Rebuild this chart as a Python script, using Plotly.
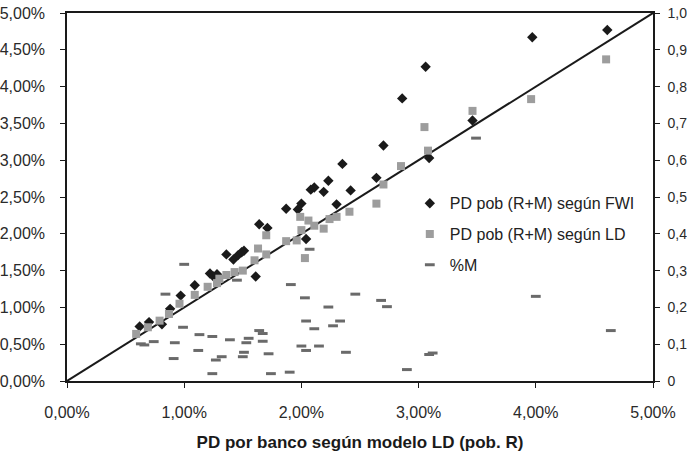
import plotly.graph_objects as go

# PD por banco según modelo LD (pob. R), in %
fwi_x = [0.62, 0.70, 0.81, 0.88, 0.97, 1.09, 1.22, 1.25, 1.28, 1.36, 1.42, 1.46, 1.49, 1.51, 1.61,
         1.64, 1.71, 1.87, 1.97, 2.00, 2.04, 2.08, 2.11, 2.19, 2.23, 2.30, 2.35, 2.42, 2.64, 2.70,
         2.86, 3.06, 3.09, 3.46, 3.97, 4.61]
fwi_y = [0.74, 0.80, 0.77, 0.98, 1.16, 1.30, 1.46, 1.42, 1.45, 1.72, 1.65, 1.71, 1.75, 1.77, 1.42,
         2.13, 2.08, 2.34, 2.33, 2.41, 1.93, 2.60, 2.63, 2.57, 2.72, 2.40, 2.95, 2.59, 2.76, 3.20,
         3.84, 4.27, 3.03, 3.54, 4.67, 4.77]

ld_x = [0.59, 0.69, 0.79, 0.87, 0.96, 1.09, 1.20, 1.28, 1.30, 1.36, 1.43, 1.50, 1.60, 1.63, 1.70,
        1.70, 1.87, 1.96, 1.99, 2.00, 2.03, 2.06, 2.11, 2.19, 2.24, 2.30, 2.41, 2.64, 2.70, 2.85,
        3.05, 3.08, 3.46, 3.96, 4.60]
ld_y = [0.64, 0.73, 0.82, 0.91, 1.05, 1.17, 1.28, 1.33, 1.39, 1.44, 1.48, 1.50, 1.64, 1.80, 1.98,
        1.72, 1.90, 1.91, 2.23, 2.05, 1.67, 2.18, 2.11, 2.07, 2.20, 2.23, 2.30, 2.41, 2.67, 2.92,
        3.45, 3.13, 3.67, 3.83, 4.37]

m_x = [0.63, 0.66, 0.74, 0.84, 0.91, 0.92, 0.99, 1.00, 1.12, 1.13, 1.24, 1.24, 1.27, 1.32, 1.39,
       1.45, 1.50, 1.51, 1.53, 1.55, 1.64, 1.67, 1.67, 1.72, 1.74, 1.90, 1.91, 2.00, 2.03, 2.04,
       2.04, 2.07, 2.11, 2.15, 2.23, 2.27, 2.33, 2.38, 2.46, 2.68, 2.73, 2.90, 3.09, 3.12, 3.49,
       4.00, 4.64]
m_y = [0.101, 0.098, 0.107, 0.236, 0.061, 0.104, 0.146, 0.317, 0.083, 0.126, 0.121, 0.020, 0.057,
       0.066, 0.112, 0.274, 0.066, 0.078, 0.104, 0.116, 0.137, 0.129, 0.108, 0.074, 0.020, 0.024,
       0.262, 0.095, 0.226, 0.163, 0.083, 0.358, 0.142, 0.095, 0.201, 0.150, 0.163, 0.078, 0.236,
       0.219, 0.202, 0.031, 0.072, 0.076, 0.660, 0.230, 0.137]

diag = [0, 5]

left_ticks = [0, 0.5, 1, 1.5, 2, 2.5, 3, 3.5, 4, 4.5, 5]
left_text = ["0,00%", "0,50%", "1,00%", "1,50%", "2,00%", "2,50%", "3,00%", "3,50%", "4,00%", "4,50%", "5,00%"]
x_ticks = [0, 1, 2, 3, 4, 5]
x_text = ["0,00%", "1,00%", "2,00%", "3,00%", "4,00%", "5,00%"]
right_ticks = [0, 0.1, 0.2, 0.3, 0.4, 0.5, 0.6, 0.7, 0.8, 0.9, 1.0]
right_text = ["0", "0,1", "0,2", "0,3", "0,4", "0,5", "0,6", "0,7", "0,8", "0,9", "1,0"]

FONT = "Liberation Sans, Arial, sans-serif"
fig = go.Figure()

fig.add_trace(go.Scatter(x=diag, y=diag, mode="lines", line=dict(color="#1a1a1a", width=2),
                         showlegend=False, hoverinfo="skip"))
fig.add_trace(go.Scatter(x=fwi_x, y=fwi_y, mode="markers", name="PD pob (R+M) según FWI",
                         legendgroup="a",
                         marker=dict(symbol="diamond", size=8, color="#1a1a1a")))
fig.add_trace(go.Scatter(x=ld_x, y=ld_y, mode="markers", name="PD pob (R+M) según LD",
                         legendgroup="b",
                         marker=dict(symbol="square", size=8, color="#9d9d9d")))
fig.add_trace(go.Scatter(x=m_x, y=m_y, mode="markers", name="%M", yaxis="y2",
                         legendgroup="c",
                         marker=dict(symbol="line-ew", size=7, line=dict(color="#6a6a6a", width=3))))

fig.update_layout(
    width=687, height=452,
    margin=dict(l=67, r=34, t=13, b=71),
    paper_bgcolor="white", plot_bgcolor="white",
    font=dict(family=FONT, size=16, color="#2a2a2a"),
    xaxis=dict(range=[0, 5], tickvals=x_ticks, ticktext=x_text, showgrid=False, zeroline=False,
               showline=True, linecolor="#1a1a1a", linewidth=1.5, mirror=True, automargin=False,
               ticks="outside", ticklen=5, tickcolor="#1a1a1a", ticklabelstandoff=11,
               title=dict(text="<b>PD por banco según modelo LD (pob. R)</b>",
                          font=dict(size=17, color="#1a1a1a"), standoff=27)),
    yaxis=dict(range=[0, 5], tickvals=left_ticks, ticktext=left_text, showgrid=False, zeroline=False,
               showline=True, linecolor="#1a1a1a", linewidth=1.5, automargin=False,
               ticks="outside", ticklen=5, tickcolor="#1a1a1a", ticklabelstandoff=12),
    yaxis2=dict(range=[0, 1], overlaying="y", side="right", tickvals=right_ticks, ticktext=right_text,
                showgrid=False, zeroline=False, showline=True, linecolor="#1a1a1a", linewidth=1.5,
                automargin=False, tickfont=dict(size=14),
                ticks="outside", ticklen=5, tickcolor="#1a1a1a", ticklabelstandoff=5),
    legend=dict(x=0.585, y=0.529, xanchor="left", yanchor="top", bgcolor="rgba(0,0,0,0)",
                font=dict(size=16, color="#222222"), traceorder="grouped", tracegroupgap=7),
)

fig.write_html("out.html")
